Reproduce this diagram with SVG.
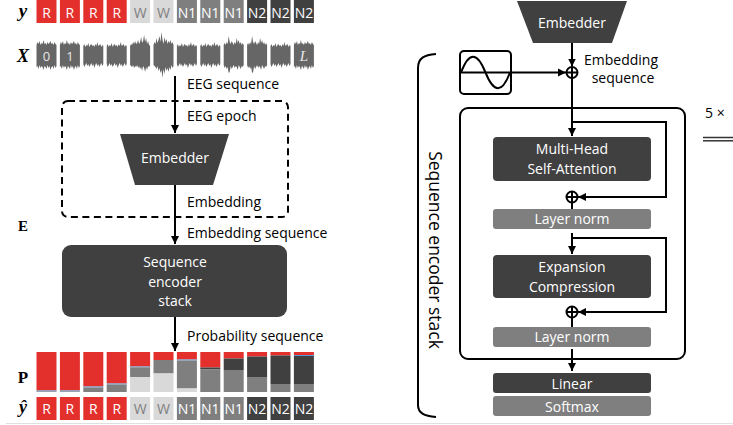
<svg xmlns="http://www.w3.org/2000/svg" xmlns:xlink="http://www.w3.org/1999/xlink" width="733" height="425" viewBox="0 0 733 425">
<style>
.lbl{font-family:"Open Sans",sans-serif;font-size:14px;fill:#000}
.wt{font-family:"Open Sans",sans-serif;font-size:14px;fill:#fff;text-anchor:middle}
.gt{font-family:"Open Sans",sans-serif;font-size:14px;fill:#7f7f7f;text-anchor:middle}
.math{font-family:"Liberation Serif",serif;font-weight:bold;text-anchor:middle;fill:#000}
.R{fill:#e3302c}.W{fill:#d9d9d9}.N1{fill:#7f7f7f}.N2{fill:#404040}.B{fill:#5b9bd5}
.ln{stroke:#000;stroke-width:2;fill:none}
.wave{fill:#666}
</style>
<defs>
<marker id="ah" viewBox="0 0 10 10" refX="10" refY="5" markerWidth="8" markerHeight="9" markerUnits="userSpaceOnUse" orient="auto"><path d="M0,0 L10,5 L0,10 Z" fill="#000"/></marker>
<path id="wA" d="M0,46 L1,44 2,47 3,45 4,46 5,43 6,47 7,45 8,44 9,46 10,45 11,47 12,44 13,46 14,42 15,46 16,45 17,44 18,47 19,45 20,46 20,64 19,66 18,63 17,65 16,67 15,64 14,66 13,63 12,65 11,68 10,64 9,66 8,63 7,65 6,67 5,64 4,66 3,63 2,65 1,67 0,64Z"/>
<path id="wB" d="M0,45 L1,42 2,44 3,41 4,45 5,43 6,44 7,40 8,44 9,43 10,45 11,42 12,44 13,43 14,41 15,44 16,43 17,45 18,42 19,44 20,45 20,66 19,68 18,65 17,69 16,66 15,67 14,70 13,66 12,68 11,65 10,69 9,67 8,66 7,70 6,67 5,66 4,68 3,65 2,69 1,66 0,67Z"/>
<path id="wC" d="M0,46 L1,44 2,45 3,42 4,44 5,41 6,44 7,43 8,40 9,44 10,42 11,37 12,43 13,41 14,35 15,42 16,38 17,44 18,41 19,45 20,46 20,65 19,67 18,66 17,70 16,67 15,72 14,68 13,66 12,71 11,67 10,69 9,66 8,68 7,65 6,67 5,66 4,68 3,65 2,67 1,66 0,65Z"/>
<path id="wD" d="M0,45 L1,42 2,44 3,38 4,43 5,40 6,36 7,42 8,32 9,40 10,44 11,37 12,42 13,39 14,44 15,41 16,43 17,40 18,44 19,42 20,45 20,66 19,68 18,65 17,70 16,67 15,72 14,68 13,71 12,67 11,74 10,69 9,78 8,70 7,73 6,68 5,71 4,66 3,69 2,67 1,66 0,65Z"/>
<path id="wE" d="M0,45 L1,43 2,45 3,42 4,44 5,36 6,42 7,44 8,41 9,43 10,45 11,42 12,44 13,38 14,43 15,40 16,44 17,42 18,45 19,43 20,45 20,65 19,67 18,66 17,69 16,67 15,65 14,70 13,67 12,66 11,68 10,65 9,67 8,69 7,66 6,72 5,73 4,67 3,69 2,66 1,68 0,65Z"/>
</defs>

<g id="axis-labels">
<text class="math" x="23" y="17" font-size="19" font-style="italic">y</text>
<text class="math" x="23" y="62" font-size="18" font-style="italic">X</text>
<text class="math" x="23" y="231" font-size="15">E</text>
<text class="math" x="23" y="383" font-size="17">P</text>
<text class="math" x="23" y="413" font-size="18" font-style="italic">ŷ</text>
</g>

<g id="y-row">
<rect class="R" x="36.5" y="0" width="20" height="23"/><text class="wt" x="46.5" y="17.5">R</text>
<rect class="R" x="59.9" y="0" width="20" height="23"/><text class="wt" x="69.9" y="17.5">R</text>
<rect class="R" x="83.3" y="0" width="20" height="23"/><text class="wt" x="93.3" y="17.5">R</text>
<rect class="R" x="106.7" y="0" width="20" height="23"/><text class="wt" x="116.7" y="17.5">R</text>
<rect class="W" x="130.1" y="0" width="20" height="23"/><text class="gt" x="140.1" y="17.5">W</text>
<rect class="W" x="153.5" y="0" width="20" height="23"/><text class="gt" x="163.5" y="17.5">W</text>
<rect class="N1" x="176.9" y="0" width="20" height="23"/><text class="wt" x="186.9" y="17.5">N1</text>
<rect class="N1" x="200.3" y="0" width="20" height="23"/><text class="wt" x="210.3" y="17.5">N1</text>
<rect class="N1" x="223.7" y="0" width="20" height="23"/><text class="wt" x="233.7" y="17.5">N1</text>
<rect class="N2" x="247.1" y="0" width="20" height="23"/><text class="wt" x="257.1" y="17.5">N2</text>
<rect class="N2" x="270.5" y="0" width="20" height="23"/><text class="wt" x="280.5" y="17.5">N2</text>
<rect class="N2" x="293.9" y="0" width="20" height="23"/><text class="wt" x="303.9" y="17.5">N2</text>
</g>

<g id="x-row" class="wave">
<use href="#wB" x="36.5"/>
<use href="#wB" x="59.9"/>
<use href="#wA" x="83.3"/>
<use href="#wA" x="106.7"/>
<use href="#wC" x="130.1"/>
<use href="#wD" x="153.5"/>
<use href="#wA" x="176.9"/>
<use href="#wA" x="200.3"/>
<use href="#wE" x="223.7"/>
<use href="#wE" x="247.1"/>
<use href="#wA" x="270.5"/>
<use href="#wB" x="293.9"/>
<text x="46.5" y="61" font-family="Open Sans, sans-serif" font-size="13" fill="#e6e6e6" text-anchor="middle">0</text>
<text x="69.9" y="61" font-family="Open Sans, sans-serif" font-size="13" fill="#e6e6e6" text-anchor="middle">1</text>
<text x="304" y="61" font-family="Liberation Serif, serif" font-style="italic" font-size="15" fill="#e6e6e6" text-anchor="middle">L</text>
</g>

<g id="epoch-box">
<rect x="62" y="101" width="226" height="116" rx="6" fill="none" stroke="#000" stroke-width="2" stroke-dasharray="7 4.5"/>
</g>

<g id="embedder-left">
<polygon points="120,134 229,134 213,185 135,185" fill="#404040"/>
<text class="wt" x="175" y="163">Embedder</text>
</g>

<g id="seq-encoder">
<rect x="62" y="245" width="225" height="72" rx="9" fill="#404040"/>
<text class="wt" x="175" y="267">Sequence</text>
<text class="wt" x="175" y="286.5">encoder</text>
<text class="wt" x="175" y="305.5">stack</text>
</g>

<g id="p-row">
<g transform="translate(36.5,0)"><rect class="R" y="352" width="20" height="38.5"/><rect class="B" y="390.5" width="20" height="1"/><rect class="N1" y="391.5" width="20" height="0.5"/></g>
<g transform="translate(59.9,0)"><rect class="R" y="352" width="20" height="38.5"/><rect class="B" y="390.5" width="20" height="1"/><rect class="N1" y="391.5" width="20" height="0.5"/></g>
<g transform="translate(83.3,0)"><rect class="R" y="352" width="20" height="34.5"/><rect class="B" y="386.5" width="20" height="1"/><rect class="N1" y="387.5" width="20" height="4.5"/></g>
<g transform="translate(106.7,0)"><rect class="R" y="352" width="20" height="31.5"/><rect class="B" y="383.5" width="20" height="1"/><rect class="N1" y="384.5" width="20" height="7.5"/></g>
<g transform="translate(130.1,0)"><rect class="R" y="352" width="20" height="14.5"/><rect class="B" y="366.5" width="20" height="0.8"/><rect class="N1" y="367.3" width="20" height="9.7"/><rect class="W" y="377" width="20" height="15"/></g>
<g transform="translate(153.5,0)"><rect class="R" y="352" width="20" height="8"/><rect class="N1" y="360" width="20" height="13.5"/><rect class="W" y="373.5" width="20" height="18.5"/></g>
<g transform="translate(176.9,0)"><rect class="R" y="352" width="20" height="7.5"/><rect class="B" y="359.5" width="20" height="1"/><rect class="N1" y="360.5" width="20" height="28"/><rect class="W" y="388.5" width="20" height="3.5"/></g>
<g transform="translate(200.3,0)"><rect class="R" y="352" width="20" height="15.5"/><rect class="N2" y="367.5" width="20" height="2"/><rect class="N1" y="369.5" width="20" height="22.5"/></g>
<g transform="translate(223.7,0)"><rect class="R" y="352" width="20" height="6.5"/><rect class="N2" y="358.5" width="20" height="11.5"/><rect class="N1" y="370" width="20" height="22"/></g>
<g transform="translate(247.1,0)"><rect class="R" y="352" width="20" height="4.5"/><rect class="N2" y="356.5" width="20" height="20.5"/><rect class="N1" y="377" width="20" height="15"/></g>
<g transform="translate(270.5,0)"><rect class="R" y="352" width="20" height="3.5"/><rect class="N2" y="355.5" width="20" height="28.5"/><rect class="N1" y="384" width="20" height="8"/></g>
<g transform="translate(293.9,0)"><rect class="R" y="352" width="20" height="3"/><rect class="B" y="355" width="20" height="1"/><rect class="N2" y="356" width="20" height="28"/><rect class="N1" y="384" width="20" height="8"/></g>
</g>

<g id="yhat-row">
<rect class="R" x="36.5" y="397" width="20" height="23"/><text class="wt" x="46.5" y="413.5">R</text>
<rect class="R" x="59.9" y="397" width="20" height="23"/><text class="wt" x="69.9" y="413.5">R</text>
<rect class="R" x="83.3" y="397" width="20" height="23"/><text class="wt" x="93.3" y="413.5">R</text>
<rect class="R" x="106.7" y="397" width="20" height="23"/><text class="wt" x="116.7" y="413.5">R</text>
<rect class="W" x="130.1" y="397" width="20" height="23"/><text class="gt" x="140.1" y="413.5">W</text>
<rect class="W" x="153.5" y="397" width="20" height="23"/><text class="gt" x="163.5" y="413.5">W</text>
<rect class="N1" x="176.9" y="397" width="20" height="23"/><text class="wt" x="186.9" y="413.5">N1</text>
<rect class="N1" x="200.3" y="397" width="20" height="23"/><text class="wt" x="210.3" y="413.5">N1</text>
<rect class="N1" x="223.7" y="397" width="20" height="23"/><text class="wt" x="233.7" y="413.5">N1</text>
<rect class="N2" x="247.1" y="397" width="20" height="23"/><text class="wt" x="257.1" y="413.5">N2</text>
<rect class="N2" x="270.5" y="397" width="20" height="23"/><text class="wt" x="280.5" y="413.5">N2</text>
<rect class="N2" x="293.9" y="397" width="20" height="23"/><text class="wt" x="303.9" y="413.5">N2</text>
</g>

<g id="left-connector-labels">
<text class="lbl" x="187" y="89">EEG sequence</text>
<text class="lbl" x="187" y="121">EEG epoch</text>
<text class="lbl" x="187" y="207">Embedding</text>
<text class="lbl" x="187" y="238">Embedding sequence</text>
<text class="lbl" x="187" y="341">Probability sequence</text>
</g>

<g id="bracket">
<path class="ln" d="M436,54 C424,55 418,58 418,68 L418,405 C418,413 424,416 436,417"/>
<text transform="translate(429,250) rotate(90)" font-family="Open Sans, sans-serif" font-size="17.5" text-anchor="middle" fill="#000">Sequence encoder stack</text>
</g>

<g id="embedder-right">
<polygon points="517,1 627,1 612,43 533,43" fill="#404040"/>
<text class="wt" x="572" y="28">Embedder</text>
</g>

<g id="pos-enc">
<rect x="460" y="51" width="51" height="43" rx="4" fill="#fff" stroke="#000" stroke-width="2"/>
<line class="ln" x1="460" y1="72.5" x2="511" y2="72.5"/>
<path class="ln" d="M461,72.5 C469,51.5 477,51.5 485.5,72.5 S502,93.5 510,72.5"/>
</g>

<g id="encoder-block">
<rect x="460" y="108" width="225" height="251" rx="8" fill="#fff" stroke="#000" stroke-width="2"/>
</g>

<g id="add0"><circle class="ln" cx="572" cy="72.5" r="5.5"/><path class="ln" d="M566.5,72.5 H577.5 M572,67 V78"/></g>

<g id="mhsa">
<rect x="493" y="137" width="158" height="44" rx="4" fill="#404040"/>
<text class="wt" x="572" y="154">Multi-Head</text>
<text class="wt" x="572" y="174">Self-Attention</text>
</g>
<g id="add1"><circle class="ln" cx="572" cy="197" r="5.5"/><path class="ln" d="M566.5,197 H577.5 M572,191.5 V202.5"/></g>
<g id="ln1">
<rect x="493" y="209" width="158" height="20" rx="3" fill="#7f7f7f"/>
<text class="wt" x="572" y="224">Layer norm</text>
</g>
<g id="ffn">
<rect x="493" y="255" width="158" height="43" rx="4" fill="#404040"/>
<text class="wt" x="572" y="272">Expansion</text>
<text class="wt" x="572" y="291.5">Compression</text>
</g>
<g id="add2"><circle class="ln" cx="572" cy="312" r="5.5"/><path class="ln" d="M566.5,312 H577.5 M572,306.5 V317.5"/></g>
<g id="ln2">
<rect x="493" y="327" width="158" height="20" rx="3" fill="#7f7f7f"/>
<text class="wt" x="572" y="341.5">Layer norm</text>
</g>
<g id="linear">
<rect x="493" y="373" width="158" height="20" rx="3" fill="#404040"/>
<text class="wt" x="572" y="388.5">Linear</text>
</g>
<g id="softmax">
<rect x="493" y="396" width="158" height="20" rx="3" fill="#7f7f7f"/>
<text class="wt" x="572" y="411.5">Softmax</text>
</g>

<g id="emb-seq-label">
<text class="lbl" x="621" y="65" text-anchor="middle">Embedding</text>
<text class="lbl" x="623" y="83" text-anchor="middle">sequence</text>
</g>

<g id="repeat">
<text class="lbl" x="705" y="118">5 ×</text>
<line x1="703" y1="137.5" x2="733" y2="137.5" stroke="#333" stroke-width="1.5"/>
<line x1="703" y1="140.8" x2="733" y2="140.8" stroke="#333" stroke-width="1.5"/>
</g>

<g id="connectors" class="ln" marker-end="url(#ah)">
<line x1="175" y1="76" x2="175" y2="133"/>
<line x1="175" y1="185" x2="175" y2="244"/>
<line x1="175" y1="317" x2="175" y2="351"/>
<line x1="572" y1="43" x2="572" y2="66.5"/>
<line x1="511" y1="72.5" x2="566" y2="72.5"/>
<line x1="572" y1="78" x2="572" y2="136"/>
<polyline points="572,122 666,122 666,197 578,197"/>
<line x1="572" y1="202.5" x2="572" y2="209" marker-end="none"/>
<line x1="572" y1="233" x2="572" y2="254"/>
<polyline points="572,238 666,238 666,312 578,312"/>
<line x1="572" y1="317.5" x2="572" y2="327" marker-end="none"/>
<line x1="572" y1="349" x2="572" y2="371"/>
</g>

<line x1="6" y1="423.5" x2="733" y2="423.5" stroke="#e0e0e0" stroke-width="1"/>
</svg>
